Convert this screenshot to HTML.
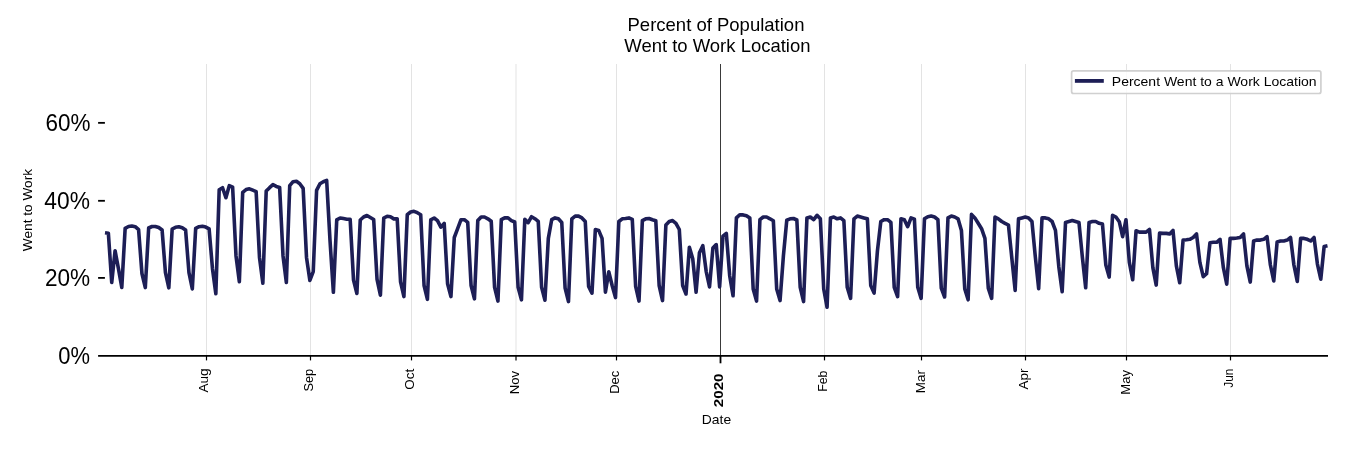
<!DOCTYPE html>
<html><head><meta charset="utf-8"><style>
html,body{margin:0;padding:0;background:#fff;}
body{width:1350px;height:450px;overflow:hidden;}
svg{position:absolute;left:0;top:0;will-change:transform;}
text{font-family:"Liberation Sans", sans-serif;fill:#000;}
</style></head><body>
<svg width="1350" height="450" viewBox="0 0 1350 450">
<line x1="206.5" y1="64.0" x2="206.5" y2="355.8" stroke="#e3e3e3" stroke-width="1"/>
<line x1="310.5" y1="64.0" x2="310.5" y2="355.8" stroke="#e3e3e3" stroke-width="1"/>
<line x1="411.5" y1="64.0" x2="411.5" y2="355.8" stroke="#e3e3e3" stroke-width="1"/>
<line x1="516.0" y1="64.0" x2="516.0" y2="355.8" stroke="#e3e3e3" stroke-width="1"/>
<line x1="616.5" y1="64.0" x2="616.5" y2="355.8" stroke="#e3e3e3" stroke-width="1"/>
<line x1="824.5" y1="64.0" x2="824.5" y2="355.8" stroke="#e3e3e3" stroke-width="1"/>
<line x1="921.5" y1="64.0" x2="921.5" y2="355.8" stroke="#e3e3e3" stroke-width="1"/>
<line x1="1025.5" y1="64.0" x2="1025.5" y2="355.8" stroke="#e3e3e3" stroke-width="1"/>
<line x1="1126.5" y1="64.0" x2="1126.5" y2="355.8" stroke="#e3e3e3" stroke-width="1"/>
<line x1="1230.5" y1="64.0" x2="1230.5" y2="355.8" stroke="#e3e3e3" stroke-width="1"/>
<line x1="720.5" y1="64.0" x2="720.5" y2="355.8" stroke="#3a3a3a" stroke-width="1"/>
<polyline points="105.00,232.70 108.36,233.20 111.72,282.50 115.08,250.70 118.43,268.70 121.79,287.40 125.15,228.30 128.51,226.50 131.87,226.00 135.23,226.70 138.59,229.70 141.94,273.50 145.30,287.60 148.66,228.00 152.02,226.50 155.38,226.50 158.74,227.50 162.09,230.00 165.45,272.70 168.81,287.80 172.17,229.00 175.53,227.30 178.89,226.80 182.25,227.70 185.60,230.00 188.96,272.70 192.32,289.00 195.68,228.30 199.04,226.70 202.40,226.30 205.75,227.10 209.11,228.90 212.47,268.70 215.83,293.70 219.19,189.70 222.55,187.70 225.91,197.70 229.26,185.70 232.62,187.20 235.98,255.70 239.34,281.80 242.70,192.30 246.06,189.60 249.42,188.80 252.77,190.20 256.13,191.70 259.49,257.40 262.85,283.20 266.21,191.00 269.57,187.70 272.92,184.70 276.28,186.40 279.64,187.40 283.00,255.70 286.36,282.50 289.72,185.70 293.08,181.70 296.43,181.30 299.79,183.70 303.15,188.40 306.51,257.40 309.87,280.40 313.23,271.70 316.59,190.40 319.94,183.70 323.30,181.70 326.66,180.40 330.02,240.70 333.38,292.30 336.74,219.80 340.10,218.00 343.45,218.60 346.81,219.30 350.17,219.30 353.53,280.10 356.89,293.50 360.25,220.00 363.60,217.00 366.96,215.50 370.32,217.50 373.68,219.50 377.04,279.30 380.40,295.20 383.76,218.00 387.11,216.30 390.47,216.80 393.83,218.90 397.19,218.70 400.55,281.90 403.91,296.60 407.26,214.70 410.62,212.00 413.98,211.30 417.34,212.70 420.70,214.70 424.06,285.50 427.42,299.30 430.77,219.80 434.13,218.00 437.49,220.70 440.85,227.20 444.21,223.30 447.57,283.70 450.93,296.60 454.28,237.50 457.64,228.70 461.00,219.70 464.36,219.70 467.72,222.40 471.08,285.50 474.44,298.80 477.79,220.60 481.15,217.00 484.51,217.00 487.87,218.80 491.23,221.30 494.59,287.30 497.94,301.10 501.30,219.70 504.66,217.90 508.02,217.90 511.38,220.60 514.74,222.00 518.10,287.30 521.45,299.80 524.81,219.30 528.17,222.70 531.53,216.70 534.89,218.70 538.25,221.30 541.61,287.30 544.96,300.20 548.32,238.40 551.68,219.70 555.04,217.90 558.40,218.80 561.76,222.40 565.11,288.10 568.47,301.60 571.83,218.80 575.19,216.10 578.55,216.10 581.91,217.90 585.27,221.50 588.62,286.40 591.98,293.10 595.34,229.50 598.70,230.40 602.06,238.40 605.42,292.20 608.77,271.70 612.13,285.50 615.49,297.60 618.85,221.50 622.21,218.80 625.57,218.50 628.93,217.90 632.28,219.30 635.64,286.40 639.00,301.10 642.36,220.60 645.72,218.80 649.08,218.50 652.44,219.70 655.79,220.70 659.15,285.50 662.51,300.60 665.87,225.00 669.23,221.50 672.59,220.60 675.94,223.30 679.30,229.50 682.66,285.50 686.02,294.00 689.38,247.20 692.74,258.70 696.10,292.20 699.45,252.70 702.81,245.70 706.17,271.30 709.53,286.90 712.89,248.10 716.25,244.60 719.61,286.90 722.96,236.20 726.32,233.40 729.68,275.70 733.04,295.80 736.40,217.90 739.76,214.70 743.12,214.90 746.47,215.70 749.83,218.00 753.19,289.00 756.55,301.10 759.91,219.70 763.27,217.00 766.62,217.00 769.98,218.80 773.34,220.70 776.70,289.00 780.06,300.60 783.42,255.70 786.78,220.20 790.13,218.80 793.49,218.50 796.85,220.00 800.21,287.30 803.57,301.60 806.93,217.90 810.28,217.00 813.64,219.70 817.00,215.30 820.36,218.80 823.72,289.00 827.08,307.30 830.44,217.90 833.79,217.00 837.15,218.80 840.51,217.90 843.87,220.60 847.23,287.30 850.59,298.40 853.95,218.80 857.30,216.10 860.66,217.00 864.02,217.90 867.38,218.80 870.74,285.50 874.10,293.10 877.45,250.70 880.81,221.50 884.17,219.70 887.53,219.70 890.89,222.40 894.25,287.30 897.61,296.60 900.96,218.70 904.32,219.70 907.68,226.70 911.04,217.90 914.40,219.20 917.76,287.30 921.12,298.40 924.47,218.80 927.83,216.70 931.19,216.10 934.55,217.00 937.91,219.70 941.27,288.10 944.62,297.00 947.98,217.90 951.34,216.10 954.70,217.00 958.06,218.80 961.42,230.40 964.78,289.00 968.13,299.80 971.49,214.40 974.85,217.90 978.21,223.30 981.57,228.70 984.93,238.40 988.29,288.10 991.64,298.40 995.00,217.00 998.36,218.80 1001.72,221.50 1005.08,223.30 1008.44,225.00 1011.79,257.70 1015.15,290.40 1018.51,218.80 1021.87,217.90 1025.23,217.00 1028.59,217.90 1031.95,221.50 1035.30,256.70 1038.66,288.60 1042.02,217.90 1045.38,217.90 1048.74,218.80 1052.10,221.50 1055.46,230.40 1058.81,266.70 1062.17,291.70 1065.53,222.40 1068.89,221.50 1072.25,220.60 1075.61,221.50 1078.96,222.40 1082.32,256.70 1085.68,287.80 1089.04,222.40 1092.40,221.50 1095.76,221.50 1099.12,223.30 1102.47,224.10 1105.83,265.00 1109.19,277.10 1112.55,215.30 1115.91,217.00 1119.27,221.70 1122.63,236.70 1125.98,219.70 1129.34,262.40 1132.70,279.80 1136.06,230.70 1139.42,232.10 1142.78,232.10 1146.13,232.10 1149.49,229.50 1152.85,267.70 1156.21,285.10 1159.57,233.00 1162.93,233.40 1166.29,233.40 1169.64,233.90 1173.00,230.40 1176.36,265.90 1179.72,282.80 1183.08,240.10 1186.44,239.80 1189.80,239.30 1193.15,237.50 1196.51,233.90 1199.87,262.40 1203.23,276.70 1206.59,273.70 1209.95,242.80 1213.30,242.30 1216.66,242.30 1220.02,239.30 1223.38,267.70 1226.74,284.20 1230.10,238.40 1233.46,238.40 1236.81,238.00 1240.17,237.50 1243.53,233.90 1246.89,265.90 1250.25,282.10 1253.61,241.00 1256.97,240.10 1260.32,240.10 1263.68,239.30 1267.04,236.60 1270.40,265.00 1273.76,281.00 1277.12,241.90 1280.47,241.00 1283.83,241.00 1287.19,240.10 1290.55,237.50 1293.91,265.00 1297.27,281.50 1300.63,238.40 1303.98,238.40 1307.34,239.30 1310.70,241.00 1314.06,237.50 1317.42,264.10 1320.78,279.20 1324.14,246.40 1327.49,245.70" fill="none" stroke="#1d1e56" stroke-width="3.6" stroke-linejoin="round" stroke-linecap="butt"/>
<line x1="98.1" y1="355.8" x2="1328.0" y2="355.8" stroke="#000" stroke-width="1.8"/>
<line x1="98.1" y1="277.9" x2="104.9" y2="277.9" stroke="#000" stroke-width="1.8"/>
<line x1="98.1" y1="200.8" x2="104.9" y2="200.8" stroke="#000" stroke-width="1.8"/>
<line x1="98.1" y1="122.85" x2="104.9" y2="122.85" stroke="#000" stroke-width="1.8"/>
<line x1="206.5" y1="355.8" x2="206.5" y2="360.40000000000003" stroke="#000" stroke-width="1.2"/>
<line x1="310.5" y1="355.8" x2="310.5" y2="360.40000000000003" stroke="#000" stroke-width="1.2"/>
<line x1="411.5" y1="355.8" x2="411.5" y2="360.40000000000003" stroke="#000" stroke-width="1.2"/>
<line x1="516.0" y1="355.8" x2="516.0" y2="360.40000000000003" stroke="#000" stroke-width="1.2"/>
<line x1="616.5" y1="355.8" x2="616.5" y2="360.40000000000003" stroke="#000" stroke-width="1.2"/>
<line x1="720.5" y1="355.8" x2="720.5" y2="363.3" stroke="#000" stroke-width="1.8"/>
<line x1="824.5" y1="355.8" x2="824.5" y2="360.40000000000003" stroke="#000" stroke-width="1.2"/>
<line x1="921.5" y1="355.8" x2="921.5" y2="360.40000000000003" stroke="#000" stroke-width="1.2"/>
<line x1="1025.5" y1="355.8" x2="1025.5" y2="360.40000000000003" stroke="#000" stroke-width="1.2"/>
<line x1="1126.5" y1="355.8" x2="1126.5" y2="360.40000000000003" stroke="#000" stroke-width="1.2"/>
<line x1="1230.5" y1="355.8" x2="1230.5" y2="360.40000000000003" stroke="#000" stroke-width="1.2"/>
<rect x="1071.6" y="70.9" width="249.3" height="22.6" rx="2" ry="2" fill="#fff" fill-opacity="0.8" stroke="#d0d0d0" stroke-width="1.7"/>
<line x1="1074.9" y1="80.9" x2="1103.8" y2="80.9" stroke="#1d1e56" stroke-width="3.8"/>
<text x="627.50" y="30.75" font-size="17.7" textLength="176.96" lengthAdjust="spacingAndGlyphs">Percent of Population</text>
<text x="624.30" y="51.80" font-size="17.7" textLength="186.18" lengthAdjust="spacingAndGlyphs">Went to Work Location</text>
<text x="45.40" y="131.00" font-size="23.4" textLength="45.00" lengthAdjust="spacingAndGlyphs">60%</text>
<text x="44.30" y="208.75" font-size="23.4" textLength="45.59" lengthAdjust="spacingAndGlyphs">40%</text>
<text x="44.90" y="285.75" font-size="23.4" textLength="45.21" lengthAdjust="spacingAndGlyphs">20%</text>
<text x="58.25" y="364.00" font-size="23.4" textLength="31.70" lengthAdjust="spacingAndGlyphs">0%</text>
<text x="1111.80" y="85.70" font-size="12.9" textLength="204.80" lengthAdjust="spacingAndGlyphs">Percent Went to a Work Location</text>
<text x="701.80" y="423.55" font-size="11.95" textLength="29.31" lengthAdjust="spacingAndGlyphs">Date</text>
<text transform="translate(32.00,251.15) rotate(-90)" font-size="12" textLength="82.20" lengthAdjust="spacingAndGlyphs">Went to Work</text>
<text transform="translate(207.75,392.55) rotate(-90)" font-size="12.3" textLength="24.11" lengthAdjust="spacingAndGlyphs">Aug</text>
<text transform="translate(312.75,391.55) rotate(-90)" font-size="12.3" textLength="22.72" lengthAdjust="spacingAndGlyphs">Sep</text>
<text transform="translate(413.90,389.70) rotate(-90)" font-size="12.3" textLength="21.00" lengthAdjust="spacingAndGlyphs">Oct</text>
<text transform="translate(518.83,394.35) rotate(-90)" font-size="12.3" textLength="23.40" lengthAdjust="spacingAndGlyphs">Nov</text>
<text transform="translate(618.62,393.85) rotate(-90)" font-size="12.3" textLength="23.16" lengthAdjust="spacingAndGlyphs">Dec</text>
<text transform="translate(722.67,407.25) rotate(-90)" font-size="12.2" font-weight="bold" textLength="33.79" lengthAdjust="spacingAndGlyphs">2020</text>
<text transform="translate(826.97,391.85) rotate(-90)" font-size="12.3" textLength="21.26" lengthAdjust="spacingAndGlyphs">Feb</text>
<text transform="translate(924.62,393.20) rotate(-90)" font-size="12.3" textLength="23.09" lengthAdjust="spacingAndGlyphs">Mar</text>
<text transform="translate(1027.90,389.45) rotate(-90)" font-size="12.3" textLength="20.85" lengthAdjust="spacingAndGlyphs">Apr</text>
<text transform="translate(1129.75,394.70) rotate(-90)" font-size="12.3" textLength="24.64" lengthAdjust="spacingAndGlyphs">May</text>
<text transform="translate(1233.12,387.65) rotate(-90)" font-size="12.3" textLength="18.93" lengthAdjust="spacingAndGlyphs">Jun</text>
</svg>
</body></html>
